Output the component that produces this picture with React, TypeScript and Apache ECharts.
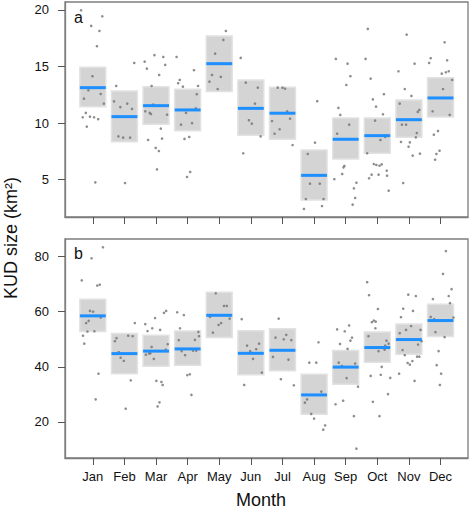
import React, { useEffect, useRef } from 'react';
import * as echarts from 'echarts';

const months = ['Jan', 'Feb', 'Mar', 'Apr', 'May', 'Jun', 'Jul', 'Aug', 'Sep', 'Oct', 'Nov', 'Dec'];
const monthTicks = [1, 2, 3, 4, 5, 6, 7, 8, 9, 10, 11, 12];
const ticksA = [5, 10, 15, 20];
const ticksB = [20, 40, 60, 80];

// Panel a (KUD size, km²)
const meanA = [13.13, 10.57, 11.54, 11.16, 15.25, 11.3, 10.87, 5.38, 8.57, 8.89, 10.3, 12.22];
const lowA = [11.45, 8.36, 9.9, 9.33, 12.78, 8.92, 8.57, 3.2, 6.83, 7.33, 8.74, 10.54];
const highA = [14.93, 12.84, 13.22, 13.0, 17.7, 13.8, 13.17, 7.62, 10.45, 10.45, 12.04, 14.0];

// Panel b
const meanB = [58.5, 44.8, 45.7, 46.5, 58.7, 44.9, 46.0, 29.8, 39.9, 47.0, 49.9, 56.8];
const lowB = [52.8, 37.5, 40.2, 40.6, 50.6, 37.1, 38.6, 22.8, 33.7, 41.7, 44.6, 51.0];
const highB = [64.5, 52.1, 51.5, 53.0, 67.1, 53.1, 53.8, 37.3, 45.9, 52.6, 55.5, 62.7];

// individual observations: [jittered month, value]
const pointsA = [
  [0.63, 19.97], [1.30, 19.44], [0.95, 18.59], [1.21, 18.14], [1.13, 16.79], [0.99, 14.14], [0.86, 12.9], [0.72, 12.16], [1.25, 12.57], [1.35, 11.72], [0.78, 10.9], [0.68, 10.51], [0.91, 10.57], [1.04, 10.51], [1.17, 10.34], [0.81, 9.69], [1.08, 4.76],
  [1.74, 13.28], [1.67, 11.92], [1.87, 11.41], [2.09, 11.72], [2.24, 11.25], [1.81, 8.83], [1.96, 8.71], [2.18, 8.71], [2.02, 4.7], [2.31, 15.31],
  [2.64, 15.43], [2.71, 14.81], [2.95, 16.0], [3.23, 15.84], [3.29, 15.14], [3.1, 14.25], [2.86, 13.28], [2.91, 11.63], [2.66, 11.04], [2.8, 10.9], [2.84, 10.8], [3.35, 10.74], [3.15, 9.51], [2.75, 8.51], [3.19, 8.63], [2.99, 7.8], [3.09, 7.53], [3.03, 5.91],
  [3.65, 15.84], [4.2, 14.67], [3.75, 13.81], [3.7, 13.52], [3.85, 13.22], [4.33, 13.28], [4.26, 11.31], [3.95, 10.9], [3.79, 9.86], [4.14, 10.0], [3.9, 8.6], [4.05, 8.77], [3.98, 5.24], [4.08, 5.68], [4.29, 12.55],
  [5.21, 18.14], [5.13, 17.35], [4.87, 16.14], [4.77, 14.25], [5.05, 14.08], [4.69, 13.66], [4.95, 13.01],
  [5.68, 15.76], [5.84, 13.57], [6.22, 13.13], [6.13, 11.72], [5.94, 10.25], [6.03, 9.95], [6.31, 8.83], [5.76, 7.33],
  [6.85, 13.13], [7.0, 13.13], [7.08, 13.04], [7.15, 11.04], [7.24, 10.39], [6.67, 10.18], [6.91, 9.45], [6.75, 9.06], [7.32, 8.06],
  [8.1, 11.93], [8.03, 8.27], [7.8, 7.27], [7.87, 4.64], [8.18, 4.64], [7.74, 3.29], [8.3, 3.29], [7.68, 2.41], [8.25, 2.67],
  [8.64, 5.04], [8.69, 15.67], [9.06, 15.25], [9.15, 14.14], [9.02, 13.37], [8.77, 11.34], [8.83, 10.72], [9.11, 9.86], [8.73, 9.06], [8.96, 6.21], [8.93, 6.09], [8.89, 5.5], [9.34, 4.73], [9.26, 4.23], [9.3, 3.38], [9.22, 2.79],
  [9.7, 18.32], [9.63, 15.67], [9.79, 13.93], [9.86, 12.1], [10.21, 12.55], [9.96, 11.45], [10.18, 10.78], [9.93, 10.22], [10.25, 8.77], [10.1, 8.51], [9.68, 7.33], [9.89, 6.38], [9.97, 6.3], [10.07, 6.23], [10.14, 6.35], [9.82, 5.44], [10.04, 5.44], [10.3, 5.79], [10.31, 5.35], [9.74, 5.12], [10.36, 4.02],
  [10.93, 17.82], [10.67, 14.58], [11.18, 15.25], [10.87, 13.01], [11.08, 12.4], [10.71, 11.72], [11.33, 11.16], [11.28, 10.99], [10.78, 9.86], [10.91, 9.86], [11.25, 9.12], [11.22, 8.74], [10.75, 8.33], [11.03, 8.3], [10.99, 7.91], [11.12, 7.12], [11.35, 7.3], [10.82, 4.7],
  [12.13, 17.14], [11.69, 15.73], [11.64, 15.31], [12.21, 15.55], [12.04, 14.37], [12.17, 14.49], [12.26, 14.58], [12.37, 13.81], [12.08, 13.01], [11.75, 11.04], [12.29, 10.72], [11.92, 9.3], [11.79, 8.97], [11.97, 7.56], [11.87, 7.27], [11.83, 6.76],
];

const pointsB = [
  [1.32, 83.4], [0.96, 79.4], [0.65, 71.4], [1.14, 69.5], [1.22, 69.8], [0.91, 60.3], [1.01, 60.0], [1.25, 57.9], [0.87, 56.7], [0.79, 55.9], [0.83, 52.8], [1.05, 52.9], [0.69, 51.3], [0.73, 48.4], [1.18, 37.5], [1.09, 28.2],
  [2.33, 55.9], [1.75, 50.4], [1.7, 49.3], [2.12, 51.3], [2.26, 51.1], [1.82, 45.3], [1.88, 43.3], [1.98, 42.2], [2.2, 35.1], [2.04, 24.8],
  [2.66, 55.5], [2.73, 53.0], [2.88, 54.0], [2.97, 57.7], [3.13, 53.4], [3.25, 59.6], [3.32, 60.3], [2.86, 47.2], [2.68, 44.4], [2.78, 44.9], [2.82, 44.9], [2.93, 42.9], [3.31, 46.2], [3.37, 48.2], [3.01, 34.9], [3.17, 34.5], [3.21, 33.4], [3.11, 27.1], [3.05, 25.6],
  [3.67, 59.8], [3.88, 58.8], [3.76, 54.0], [3.72, 49.7], [4.34, 52.7], [4.36, 51.1], [4.23, 49.8], [3.81, 45.7], [3.92, 44.2], [4.17, 45.9], [4.27, 45.9], [3.99, 37.0], [4.07, 37.3], [4.12, 29.8],
  [4.89, 66.7], [5.15, 62.1], [5.24, 62.1], [5.33, 57.5], [4.71, 58.1], [5.06, 55.9], [4.98, 55.2], [4.8, 52.4],
  [5.71, 57.3], [5.88, 47.7], [6.26, 48.4], [6.17, 46.4], [5.98, 45.7], [6.07, 42.9], [6.35, 37.9], [5.79, 33.4],
  [6.88, 57.5], [6.78, 50.6], [7.12, 51.6], [7.04, 50.0], [7.28, 49.7], [6.7, 43.6], [7.19, 42.6], [6.95, 35.5], [7.36, 33.3],
  [8.14, 48.9], [7.85, 41.5], [8.07, 41.5], [8.23, 31.0], [7.78, 28.2], [7.71, 27.0], [7.91, 22.9], [8.0, 21.2], [8.35, 18.7], [8.29, 17.2],
  [8.73, 53.6], [9.11, 55.0], [8.97, 52.9], [9.2, 50.6], [9.15, 49.5], [8.82, 48.3], [9.06, 46.5], [8.78, 41.5], [8.88, 40.3], [9.3, 41.2], [9.03, 35.9], [9.39, 32.8], [8.92, 27.7], [8.68, 26.4], [9.26, 22.1], [9.34, 10.3],
  [9.68, 70.7], [9.74, 66.0], [10.02, 61.0], [9.83, 56.2], [9.89, 56.8], [9.95, 56.4], [9.94, 54.0], [9.72, 51.1], [10.29, 49.5], [10.36, 48.4], [10.25, 47.7], [10.23, 46.2], [10.04, 45.7], [10.14, 40.0], [10.11, 37.1], [9.79, 36.7], [10.41, 36.0], [10.34, 30.1], [9.86, 27.3], [10.07, 22.1],
  [10.98, 66.2], [11.22, 65.7], [10.82, 61.1], [11.13, 60.3], [10.75, 58.0], [11.07, 54.8], [10.91, 53.4], [11.37, 53.4], [10.71, 52.2], [11.4, 49.3], [11.29, 48.1], [10.8, 46.1], [10.87, 44.2], [11.26, 43.7], [11.33, 43.7], [11.11, 42.1], [10.96, 41.4], [11.03, 40.8], [10.69, 37.5], [11.18, 34.9],
  [12.17, 82.0], [12.08, 73.7], [12.35, 68.2], [12.26, 65.7], [11.76, 64.6], [12.3, 63.1], [11.69, 58.1], [11.8, 57.3], [12.41, 57.9], [12.22, 56.9], [11.84, 52.6], [12.13, 50.8], [11.94, 45.7], [11.88, 40.6], [12.02, 37.5], [11.98, 33.4],
];

const FONT = 'Liberation Sans, Arial, sans-serif';
const HALF = 0.41;
const FRAME = '#7d7d7d';

const boxRender = (params: any, api: any) => {
  const m = api.value(0);
  const lo = api.value(1);
  const hi = api.value(2);
  const tl = api.coord([m - HALF, hi]);
  const br = api.coord([m + HALF, lo]);
  return {
    type: 'rect',
    shape: { x: tl[0], y: tl[1], width: br[0] - tl[0], height: br[1] - tl[1] },
    style: { fill: '#d4d4d4', stroke: '#e2e2e2', lineWidth: 1.5 },
  };
};

const meanRender = (params: any, api: any) => {
  const m = api.value(0);
  const mean = api.value(1);
  const l = api.coord([m - HALF, mean]);
  const r = api.coord([m + HALF, mean]);
  return {
    type: 'line',
    shape: { x1: l[0], y1: l[1], x2: r[0], y2: r[1] },
    style: { stroke: '#1e8fff', lineWidth: 3 },
  };
};

function xAxisCfg(gridIndex: number, showLabels: boolean) {
  return {
    type: 'value',
    gridIndex,
    min: 0.12,
    max: 12.87,
    splitLine: { show: false },
    axisLine: { show: true, lineStyle: { color: FRAME, width: 1.3 } },
    axisTick: { show: true, length: 7, customValues: monthTicks, lineStyle: { color: '#555', width: 1 } },
    axisLabel: {
      show: showLabels,
      customValues: monthTicks,
      formatter: (v: number) => months[Math.round(v) - 1] || '',
      margin: 12,
      fontSize: 13,
      color: '#111',
      fontFamily: FONT,
    },
  };
}

function yAxisCfg(gridIndex: number, min: number, max: number, ticks: number[]) {
  return {
    type: 'value',
    gridIndex,
    min,
    max,
    splitLine: { show: false },
    axisLine: { show: true, lineStyle: { color: FRAME, width: 1.3 } },
    axisTick: { show: true, length: 7, customValues: ticks, lineStyle: { color: '#555', width: 1 } },
    axisLabel: { customValues: ticks, margin: 16, fontSize: 13, color: '#111', fontFamily: FONT },
  };
}

export default function App() {
  const ref = useRef<HTMLDivElement>(null);
  useEffect(() => {
    document.body.style.margin = '0';
    const chart = echarts.init(ref.current!, null, { renderer: 'svg' });
    const boxDataA = months.map((_, i) => [i + 1, lowA[i], highA[i]]);
    const boxDataB = months.map((_, i) => [i + 1, lowB[i], highB[i]]);
    const meanDataA = months.map((_, i) => [i + 1, meanA[i]]);
    const meanDataB = months.map((_, i) => [i + 1, meanB[i]]);
    const pointStyle = { color: '#707070' };
    chart.setOption({
      animation: false,
      backgroundColor: '#ffffff',
      grid: [
        { left: 65, top: 2, width: 403, height: 215, show: true, borderColor: FRAME, borderWidth: 1.3, backgroundColor: 'transparent' },
        { left: 65, top: 239, width: 403, height: 219, show: true, borderColor: FRAME, borderWidth: 1.3, backgroundColor: 'transparent' },
      ],
      xAxis: [xAxisCfg(0, false), xAxisCfg(1, true)],
      yAxis: [yAxisCfg(0, 1.7, 20.7, ticksA), yAxisCfg(1, 6.9, 86.4, ticksB)],
      graphic: [
        { type: 'text', x: 74, y: 17, style: { text: 'a', font: `16px ${FONT}`, fill: '#111', textVerticalAlign: 'middle' } },
        { type: 'text', x: 74, y: 253, style: { text: 'b', font: `16px ${FONT}`, fill: '#111', textVerticalAlign: 'middle' } },
        { type: 'text', x: 261, y: 500, style: { text: 'Month', font: `18px ${FONT}`, fill: '#111', textAlign: 'center', textVerticalAlign: 'middle' } },
        { type: 'text', x: 11, y: 238, rotation: Math.PI / 2, style: { text: 'KUD size (km²)', font: `18px ${FONT}`, fill: '#111', textAlign: 'center', textVerticalAlign: 'middle' } },
      ],
      series: [
        { type: 'custom', xAxisIndex: 0, yAxisIndex: 0, renderItem: boxRender, data: boxDataA, encode: { x: 0, y: [1, 2] }, z: 1 },
        { type: 'custom', xAxisIndex: 1, yAxisIndex: 1, renderItem: boxRender, data: boxDataB, encode: { x: 0, y: [1, 2] }, z: 1 },
        { type: 'scatter', xAxisIndex: 0, yAxisIndex: 0, data: pointsA, symbolSize: 2.6, itemStyle: pointStyle, z: 2 },
        { type: 'scatter', xAxisIndex: 1, yAxisIndex: 1, data: pointsB, symbolSize: 2.6, itemStyle: pointStyle, z: 2 },
        { type: 'custom', xAxisIndex: 0, yAxisIndex: 0, renderItem: meanRender, data: meanDataA, encode: { x: 0, y: 1 }, z: 3 },
        { type: 'custom', xAxisIndex: 1, yAxisIndex: 1, renderItem: meanRender, data: meanDataB, encode: { x: 0, y: 1 }, z: 3 },
      ],
    });
    return () => chart.dispose();
  }, []);
  return <div ref={ref} style={{ width: 472, height: 509 }} />;
}
